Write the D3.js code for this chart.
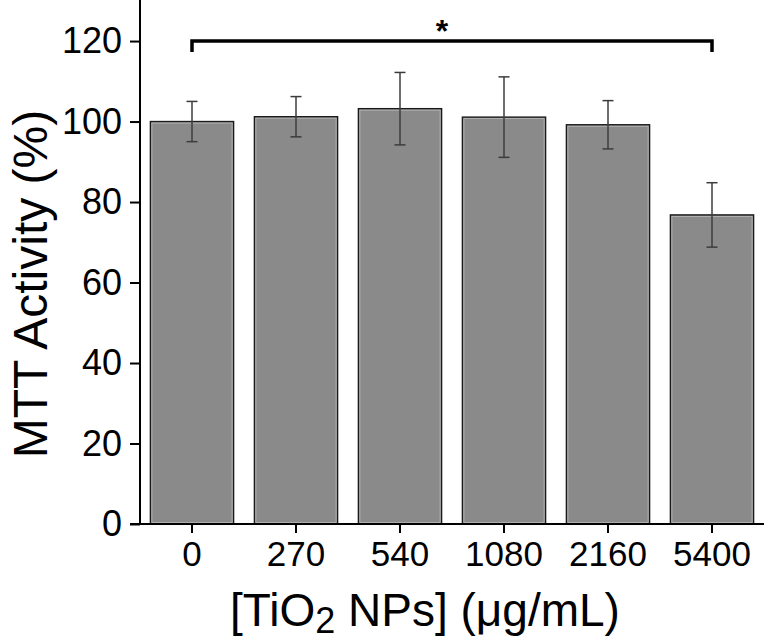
<!DOCTYPE html>
<html>
<head>
<meta charset="utf-8">
<script src="https://cdn.jsdelivr.net/npm/d3@7"></script>
<style>
  html, body { margin: 0; padding: 0; background: #fff; }
  svg { display: block; font-family: "Liberation Sans", Arial, sans-serif; }
</style>
</head>
<body>
<svg id="chart" width="767" height="642"></svg>
<script>
// ---- data ----
const categories = ["0", "270", "540", "1080", "2160", "5400"];
const activity   = [100.0, 101.2, 103.2, 101.1, 99.2, 76.8];
const errors     = [5.0, 5.0, 9.0, 10.0, 6.0, 8.0];
const yTicks     = [0, 20, 40, 60, 80, 100, 120];
const sigPair    = ["0", "5400"];
const sigValue   = 120;
const sigLabel   = "*";

// ---- layout ----
const svg = d3.select("#chart");
const mLeft = 140, mRight = 764, mTop = 0, mBottom = 524;

const x = d3.scaleBand().domain(categories).range([mLeft, mRight])
  .paddingInner(0.2).paddingOuter(0.1);
const y = d3.scaleLinear().domain([0, 130.2]).range([mBottom, mTop]);

// bars
const bars = svg.append("g");
bars.selectAll("rect.bar").data(categories).join("rect")
  .attr("class", "bar")
  .attr("x", d => x(d))
  .attr("y", (d, i) => y(activity[i]))
  .attr("width", x.bandwidth())
  .attr("height", (d, i) => y(0) - y(activity[i]))
  .attr("fill", "#8a8a8a")
  .attr("stroke", "#1a1a1a")
  .attr("stroke-width", 1.4);
bars.selectAll("rect.inner").data(categories).join("rect")
  .attr("class", "inner")
  .attr("x", d => x(d) + 1.5)
  .attr("y", (d, i) => y(activity[i]) + 1.5)
  .attr("width", x.bandwidth() - 3)
  .attr("height", (d, i) => y(0) - y(activity[i]) - 3)
  .attr("fill", "none")
  .attr("stroke", "#b8b8b8")
  .attr("stroke-width", 0.8);

// error bars
const eb = svg.append("g").attr("stroke", "#3c3c3c").attr("stroke-width", 1.5);
categories.forEach((c, i) => {
  const cx = x(c) + x.bandwidth() / 2;
  const hi = y(activity[i] + errors[i]), lo = y(activity[i] - errors[i]);
  eb.append("line").attr("x1", cx).attr("x2", cx).attr("y1", hi).attr("y2", lo);
  eb.append("line").attr("x1", cx - 5.5).attr("x2", cx + 5.5).attr("y1", hi).attr("y2", hi);
  eb.append("line").attr("x1", cx - 5.5).attr("x2", cx + 5.5).attr("y1", lo).attr("y2", lo);
});

// axes
const yAxis = d3.axisLeft(y).tickValues(yTicks).tickSize(10).tickPadding(8);
const gy = svg.append("g").attr("transform", `translate(${mLeft},0)`).call(yAxis);
gy.select(".domain").remove();
gy.append("line").attr("x1", 0).attr("x2", 0).attr("y1", mTop).attr("y2", mBottom)
  .attr("stroke", "#000").attr("stroke-width", 2);
gy.selectAll(".tick line").attr("stroke", "#000").attr("stroke-width", 2);
gy.selectAll(".tick text").attr("font-size", 36).attr("fill", "#000")
  .attr("font-family", "Liberation Sans, Arial, sans-serif");

const xAxis = d3.axisBottom(x).tickSize(9).tickPadding(8);
const gx = svg.append("g").attr("transform", `translate(0,${mBottom})`).call(xAxis);
gx.select(".domain").remove();
gx.append("line").attr("x1", 130).attr("x2", mRight).attr("y1", 0).attr("y2", 0)
  .attr("stroke", "#000").attr("stroke-width", 2);
gx.selectAll(".tick line").attr("stroke", "#000").attr("stroke-width", 2);
gx.selectAll(".tick text").attr("font-size", 35).attr("fill", "#000")
  .attr("font-family", "Liberation Sans, Arial, sans-serif");

// significance bracket
const sx1 = x(sigPair[0]) + x.bandwidth() / 2;
const sx2 = x(sigPair[1]) + x.bandwidth() / 2;
const sy = y(sigValue);
svg.append("path")
  .attr("d", `M${sx1},${sy + 11}V${sy}H${sx2}V${sy + 11}`)
  .attr("fill", "none").attr("stroke", "#000").attr("stroke-width", 3.5);
svg.append("text").attr("x", (sx1 + sx2) / 2 - 10).attr("y", sy + 1)
  .attr("text-anchor", "middle").attr("font-size", 32).attr("font-weight", "bold")
  .text(sigLabel);

// axis titles
svg.append("text")
  .attr("transform", `translate(47,284) rotate(-90)`)
  .attr("text-anchor", "middle").attr("font-size", 48).attr("fill", "#000")
  .text("MTT Activity (%)");

const xt = svg.append("text").attr("x", 425).attr("y", 626)
  .attr("text-anchor", "middle").attr("font-size", 46).attr("fill", "#000");
xt.append("tspan").text("[TiO");
xt.append("tspan").attr("font-size", 36).attr("dy", 7).text("2");
xt.append("tspan").attr("dy", -7).text(" NPs] (μg/mL)");
</script>
</body>
</html>
